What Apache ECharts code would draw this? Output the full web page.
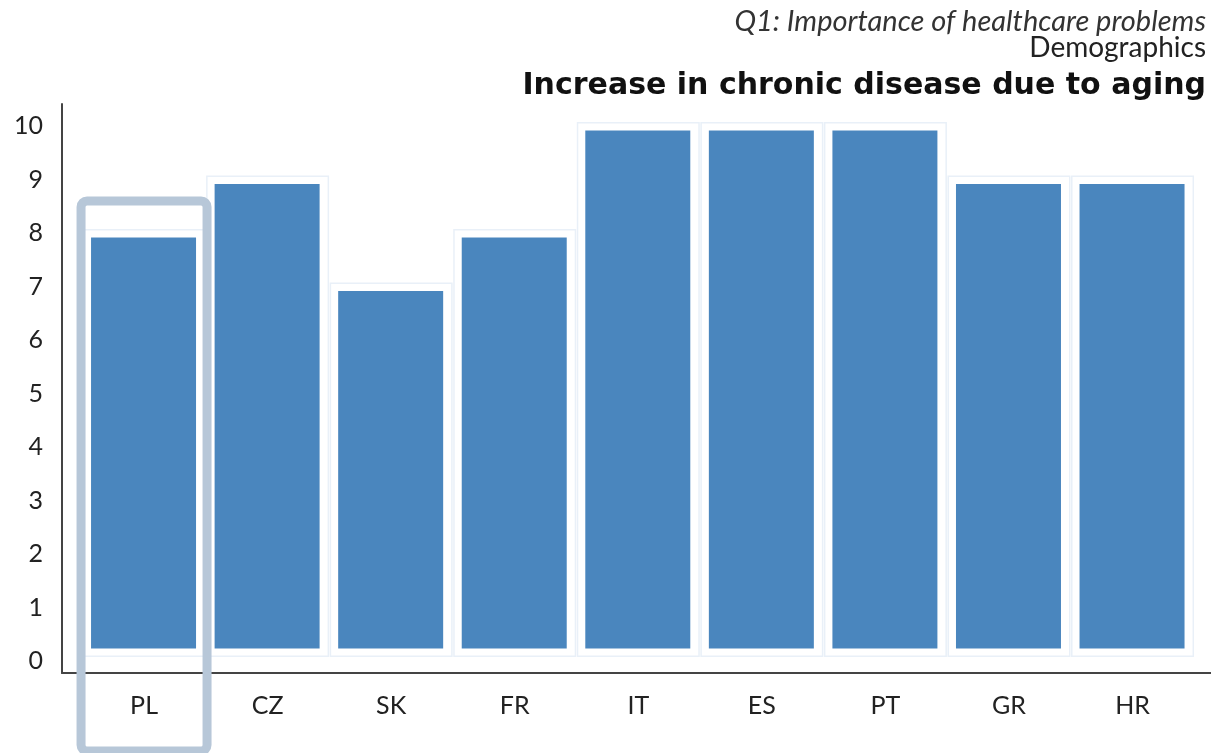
<!DOCTYPE html>
<html>
<head>
<meta charset="utf-8">
<title>Increase in chronic disease due to aging</title>
<script src="https://cdn.jsdelivr.net/npm/echarts@6/dist/echarts.min.js"></script>
<style>
  html, body { margin: 0; padding: 0; background: #fff; }
  #chart { width: 1211px; height: 753px; }
</style>
</head>
<body>
<div id="chart"></div>
<script>
// Country codes along the x axis
const countries = ['PL', 'CZ', 'SK', 'FR', 'IT', 'ES', 'PT', 'GR', 'HR'];
// Importance score per country
const scores = [8, 9, 7, 8, 10, 10, 10, 9, 9];
// Labelled y values
const yTicks = [0, 1, 2, 3, 4, 5, 6, 7, 8, 9, 10];
// Country that gets the highlight frame
const highlighted = 'PL';

const FONT = 'Lato, "Noto Sans", sans-serif';
const chart = echarts.init(document.getElementById('chart'), null, { renderer: 'canvas' });

const points = scores.map((v, i) => [i, v]);

chart.setOption({
  animation: false,
  backgroundColor: '#ffffff',
  title: [
    {
      text: 'Q1: Importance of healthcare problems',
      right: 0, top: 3,
      textStyle: { fontFamily: FONT, fontStyle: 'italic', fontWeight: 'normal', fontSize: 29, lineHeight: 28, color: '#333' }
    },
    {
      text: 'Demographics',
      right: 0, top: 29,
      textStyle: { fontFamily: FONT, fontWeight: 'normal', fontSize: 28, lineHeight: 28, color: '#222' }
    },
    {
      text: 'Increase in chronic disease due to aging',
      right: 0, top: 66,
      textStyle: { fontFamily: '"DejaVu Sans", sans-serif', fontWeight: 'bold', fontSize: 30, lineHeight: 30, color: '#111' }
    }
  ],
  grid: { left: 62, right: 0, top: 104, bottom: 80 },
  xAxis: {
    type: 'value',
    min: -0.664,
    max: 8.635,
    splitLine: { show: false },
    axisTick: { show: false },
    axisLine: { show: true, onZero: false, lineStyle: { color: '#444', width: 2 } },
    axisLabel: {
      customValues: countries.map((c, i) => i),
      formatter: v => countries[Math.round(v)] || '',
      fontFamily: FONT, fontSize: 25, color: '#222', margin: 20
    }
  },
  yAxis: {
    type: 'value',
    min: -0.299,
    max: 10.336,
    splitLine: { show: false },
    axisTick: { show: false },
    axisLine: { show: true, onZero: false, lineStyle: { color: '#444', width: 2 } },
    axisLabel: {
      customValues: yTicks,
      formatter: v => '{n|' + v + '}',
      margin: 19,
      rich: {
        n: { fontFamily: FONT, fontSize: 25, color: '#222', padding: [8, 0, 0, 0] }
      }
    }
  },
  series: [
    {
      // filled bars, inset by a white border
      type: 'bar',
      data: points,
      barWidth: 122,
      barGap: '-100%',
      z: 2,
      itemStyle: { color: '#4a86be', borderColor: '#ffffff', borderWidth: 8.5 }
    },
    {
      // faint frame around each bar's slot
      type: 'bar',
      data: points,
      barWidth: 123,
      barGap: '-100%',
      z: 3,
      silent: true,
      itemStyle: { color: 'rgba(0,0,0,0)', borderColor: '#e9f0f8', borderWidth: 1.5 }
    }
  ]
});

// Rounded frame around the highlighted country's column
function drawHighlight() {
  const idx = countries.indexOf(highlighted);
  const top = chart.convertToPixel({ gridIndex: 0 }, [idx, scores[idx]]);
  const h = chart.getHeight();
  const x = top[0] - 63;
  const y = top[1] - 28;
  chart.setOption({
    graphic: [{
      type: 'rect',
      z: 10,
      silent: true,
      shape: { x: x, y: y, width: 126, height: h - 2 - y, r: 6 },
      style: { fill: 'none', stroke: '#b7c7d8', lineWidth: 9 }
    }]
  });
}
drawHighlight();
</script>
</body>
</html>
